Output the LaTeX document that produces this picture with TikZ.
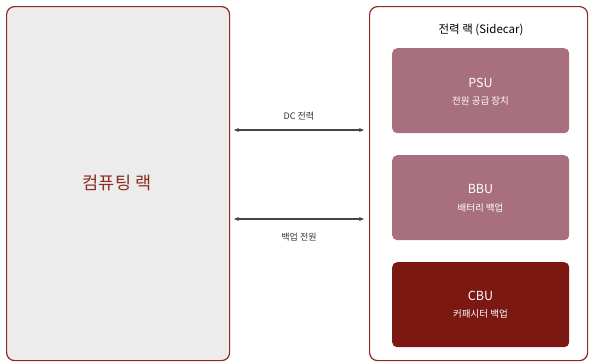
\documentclass[tikz,border=0pt]{standalone}
\usepackage{fontspec}
\setmainfont{Noto Sans CJK KR}
\usetikzlibrary{arrows.meta}
\definecolor{rackred}{HTML}{8B2A22}
\definecolor{rackgray}{HTML}{ECECEC}
\definecolor{mauve}{HTML}{A8707E}
\definecolor{darkred}{HTML}{7B1812}
\definecolor{arrowgray}{HTML}{444444}
\definecolor{labelgray}{HTML}{333333}
\tikzset{
  rack/.style={draw=rackred, line width=1.2pt, rounded corners=8pt},
  unit/.style={rounded corners=5pt, draw=none},
  unitname/.style={text=white, font=\fontsize{12.5}{15}\selectfont},
  unitsub/.style={text=white, font=\fontsize{9.5}{11}\selectfont},
  link/.style={draw=arrowgray, line width=1.2pt, {Stealth[length=5pt,width=4pt]}-{Stealth[length=5pt,width=4pt]}},
  linklabel/.style={text=labelgray, font=\fontsize{9}{11}\selectfont}
}
\begin{document}
\begin{tikzpicture}[x=1pt,y=-1pt]
\useasboundingbox (0,0) rectangle (589,362);
\node[rack, fill=rackgray, minimum width=223pt, minimum height=354pt, anchor=north west] (compute) at (6,6) {};
\node[text=rackred, font=\fontsize{17.5}{20}\selectfont] (computelabel) at (117,183) {컴퓨팅 랙};
\node[rack, fill=white, minimum width=218pt, minimum height=354pt, anchor=north west] (power) at (369,6) {};
\node[text=black, font=\fontsize{11.5}{13}\selectfont] (powerlabel) at (481,30) {전력 랙 (Sidecar)};
\node[unit, fill=mauve, minimum width=177pt, minimum height=85pt, anchor=north west] (psu) at (392,48) {};
\node[unitname] (psuname) at (480.5,83) {PSU};
\node[unitsub] (psusub) at (480.5,101) {전원 공급 장치};
\node[unit, fill=mauve, minimum width=177pt, minimum height=85pt, anchor=north west] (bbu) at (392,155) {};
\node[unitname] (bbuname) at (480.5,189) {BBU};
\node[unitsub] (bbusub) at (480.5,208) {배터리 백업};
\node[unit, fill=darkred, minimum width=177pt, minimum height=85pt, anchor=north west] (cbu) at (392,262) {};
\node[unitname] (cbuname) at (480.5,296) {CBU};
\node[unitsub] (cbusub) at (480.5,314) {커패시터 백업};
\coordinate (a1) at (234,130);
\coordinate (b1) at (364,130);
\coordinate (a2) at (234,219);
\coordinate (b2) at (364,219);
\draw[link] (a1) -- (b1);
\draw[link] (a2) -- (b2);
\node[linklabel] (dclabel) at (299,116) {DC 전력};
\node[linklabel] (backuplabel) at (299,237) {백업 전원};
\end{tikzpicture}
\end{document}
